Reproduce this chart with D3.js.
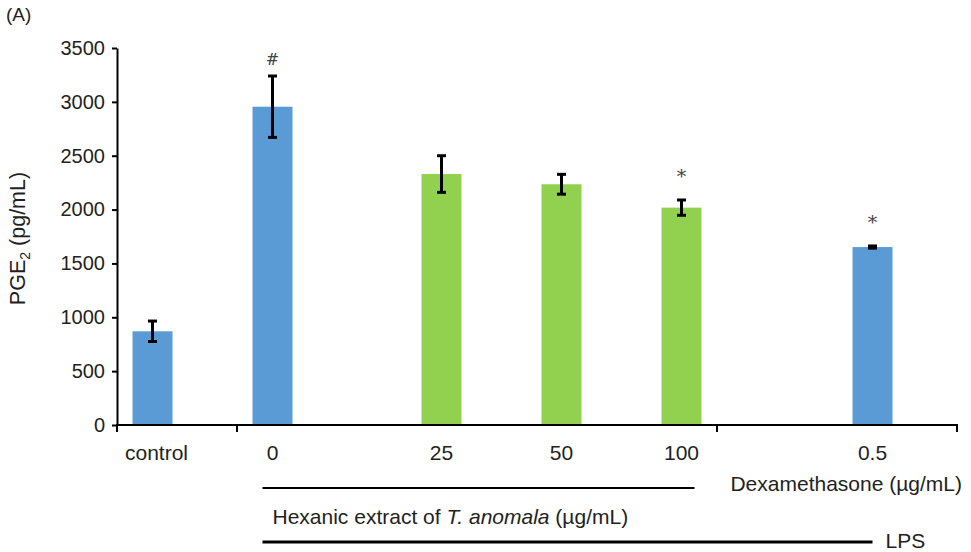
<!DOCTYPE html>
<html>
<head>
<meta charset="utf-8">
<script src="https://cdn.jsdelivr.net/npm/d3@7"></script>
<style>
  html, body { margin: 0; padding: 0; background: #fff; }
  svg { display: block; }
  text { font-family: "Liberation Sans", Arial, sans-serif; fill: #231f20; }
</style>
</head>
<body>
<svg id="chart" width="971" height="552"></svg>
<script>
// ---- data ----
const categories = ["control", "0", "25", "50", "100", "gap", "0.5"];
const labels     = ["control", "0", "25", "50", "100", "", "0.5"];
const values     = [870, 2955, 2330, 2235, 2018, null, 1652];
const errors     = [95, 285, 170, 92, 71, null, 10];
const seriesOf   = ["LPS", "LPS", "extract", "extract", "extract", null, "LPS"];
const marks      = ["", "#", "", "", "*", "", "*"];
const yTicks     = [0, 500, 1000, 1500, 2000, 2500, 3000, 3500];

const colors = { LPS: "#5b9bd5", extract: "#92d050" };

const svg = d3.select("#chart");
const mLeft = 117, mRight = 957, mTop = 48, mBottom = 425;

const x0 = d3.scaleBand().domain(categories).range([mLeft, mRight]).padding(0);
const x1 = d3.scaleBand().domain(["LPS", "extract"]).range([0, x0.bandwidth()])
  .paddingInner(0.184).paddingOuter(0.317);
const y = d3.scaleLinear().domain([0, 3500]).range([mBottom, mTop]);

const rows = categories.map((c, i) => ({
  c, label: labels[i], v: values[i], e: errors[i], s: seriesOf[i], m: marks[i]
}));
const cx = d => x0(d.c) + x1(d.s) + x1.bandwidth() / 2;
const bars = rows.filter(d => d.v != null);

// bars
svg.append("g").selectAll("rect").data(bars).join("rect")
  .attr("x", d => x0(d.c) + x1(d.s))
  .attr("width", x1.bandwidth())
  .attr("y", d => y(d.v))
  .attr("height", d => y(0) - y(d.v))
  .attr("fill", d => colors[d.s]);

// error bars
const eg = svg.append("g").attr("stroke", "#000").attr("stroke-width", 3);
eg.selectAll("line.v").data(bars).join("line").attr("class", "v")
  .attr("x1", cx).attr("x2", cx)
  .attr("y1", d => y(d.v + d.e)).attr("y2", d => y(d.v - d.e));
eg.selectAll("line.t").data(bars).join("line").attr("class", "t")
  .attr("x1", d => cx(d) - 4.5).attr("x2", d => cx(d) + 4.5)
  .attr("y1", d => y(d.v + d.e)).attr("y2", d => y(d.v + d.e));
eg.selectAll("line.b").data(bars).join("line").attr("class", "b")
  .attr("x1", d => cx(d) - 4.5).attr("x2", d => cx(d) + 4.5)
  .attr("y1", d => y(d.v - d.e)).attr("y2", d => y(d.v - d.e));

// significance marks
svg.append("g").selectAll("text").data(bars.filter(d => d.m)).join("text")
  .attr("x", cx)
  .attr("y", d => y(d.v + d.e) - (d.m === "*" ? 17 : 11))
  .attr("text-anchor", "middle")
  .style("font-family", "'DejaVu Serif', serif")
  .style("font-size", d => d.m === "*" ? "19px" : "16px")
  .style("fill", "#444")
  .text(d => d.m);

// y axis
const yAxis = d3.axisLeft(y).tickValues(yTicks).tickFormat(d3.format("d"))
  .tickSize(5).tickSizeOuter(0).tickPadding(7);
const ya = svg.append("g").attr("transform", `translate(${mLeft},0)`).call(yAxis);
ya.select(".domain").attr("stroke", "#000").attr("stroke-width", 2);
ya.selectAll(".tick line").attr("stroke", "#000").attr("stroke-width", 2);
ya.selectAll(".tick text").style("font-size", "20px").style("fill", "#231f20")
  .style("font-family", "'Liberation Sans', Arial, sans-serif");

// x axis line
svg.append("line").attr("x1", mLeft - 1).attr("x2", mRight + 1)
  .attr("y1", y(0)).attr("y2", y(0)).attr("stroke", "#000").attr("stroke-width", 2);
const tickXs = [x0("control"), x0("0"), x0("gap"), x0("0.5") + x0.bandwidth()];
svg.append("g").selectAll("line").data(tickXs).join("line")
  .attr("x1", d => d).attr("x2", d => d)
  .attr("y1", y(0)).attr("y2", y(0) + 7)
  .attr("stroke", "#000").attr("stroke-width", 2);

// x labels
svg.append("g").selectAll("text").data(bars).join("text")
  .attr("x", d => cx(d) + (d.c === "control" ? 4 : 0))
  .attr("y", 460)
  .attr("text-anchor", "middle")
  .style("font-size", "21px")
  .text(d => d.label);

// group annotations
const startX = cx(rows[1]) - 10;
svg.append("line").attr("x1", startX).attr("x2", cx(rows[4]) + 13)
  .attr("y1", 488).attr("y2", 488).attr("stroke", "#000").attr("stroke-width", 2);
svg.append("line").attr("x1", startX).attr("x2", cx(rows[6]))
  .attr("y1", 542).attr("y2", 542).attr("stroke", "#000").attr("stroke-width", 3);

svg.append("text").attr("x", mRight + 5).attr("y", 491).attr("text-anchor", "end")
  .style("font-size", "21px").text("Dexamethasone (µg/mL)");

const ht = svg.append("text").attr("x", startX + 10).attr("y", 524).style("font-size", "21px");
ht.append("tspan").text("Hexanic extract of ");
ht.append("tspan").style("font-style", "italic").text("T. anomala");
ht.append("tspan").text(" (µg/mL)");

svg.append("text").attr("x", cx(rows[6]) + 13).attr("y", 548)
  .style("font-size", "21px").text("LPS");

// y title
const yt = svg.append("text")
  .attr("transform", `translate(25,${(mTop + mBottom) / 2 + 2}) rotate(-90)`)
  .attr("text-anchor", "middle")
  .style("font-size", "21.5px");
yt.append("tspan").text("PGE");
yt.append("tspan").attr("dy", 5).style("font-size", "14px").text("2");
yt.append("tspan").attr("dy", -5).text(" (pg/mL)");

// panel label
svg.append("text").attr("x", 6).attr("y", 21).style("font-size", "19px").text("(A)");
</script>
</body>
</html>
